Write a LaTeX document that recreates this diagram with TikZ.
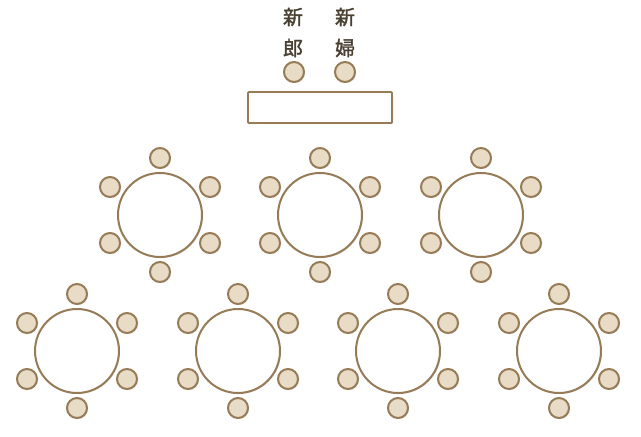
\documentclass[tikz,border=0pt]{standalone}
\usepackage{fontspec}
\newfontfamily\cjk[FakeBold=1.6]{Noto Sans CJK JP}
\usepackage{tikz}
\usetikzlibrary{positioning,shadows}

\definecolor{seatfill}{HTML}{E8DCC6}
\definecolor{rim}{HTML}{967B56}
\definecolor{ink}{HTML}{4A4032}

\tikzset{
  seat/.style={circle,draw=rim,fill=seatfill,line width=2pt,minimum size=20pt,inner sep=0pt,
    drop shadow={shadow xshift=1pt,shadow yshift=-1pt,opacity=0.25}},
  roundtable/.style={circle,draw=rim,fill=white,line width=2pt,minimum size=84pt,inner sep=0pt,
    drop shadow={shadow xshift=1pt,shadow yshift=-1pt,opacity=0.25}},
  headtable/.style={rectangle,rounded corners=1pt,draw=rim,fill=white,line width=1.8pt,
    minimum width=144pt,minimum height=31pt,inner sep=0pt,
    drop shadow={shadow xshift=1pt,shadow yshift=-1pt,opacity=0.25}},
  title/.style={font=\cjk\fontsize{20}{31}\selectfont,text=ink,align=center,inner sep=0pt}
}

\begin{document}
\begin{tikzpicture}[x=1pt,y=-1pt,node distance=57pt,on grid]
\useasboundingbox (0,0) rectangle (641,437);

% head table
\node[headtable] (head)  at (320,107.5) {};
\node[seat]      (groom) at (294,72) {};
\node[seat]      (bride) at (345,72) {};
\node[title]     (groomname) at (293,32.5) {新\\郎};
\node[title]     (bridename) at (345,32.5) {新\\婦};

% guest tables
\foreach \n/\x/\y in {1/160/215, 2/320/215, 3/481/215,
                      4/77/351, 5/238/351, 6/398/351, 7/559/351}{
  \node[roundtable] (T\n) at (\x,\y) {};
  \node[seat] (T\n-1) [above=of T\n] {};
  \node[seat] (T\n-2) [above right=28pt and 50pt of T\n] {};
  \node[seat] (T\n-3) [below right=28pt and 50pt of T\n] {};
  \node[seat] (T\n-4) [below=of T\n] {};
  \node[seat] (T\n-5) [below left=28pt and 50pt of T\n] {};
  \node[seat] (T\n-6) [above left=28pt and 50pt of T\n] {};
}
\end{tikzpicture}
\end{document}
